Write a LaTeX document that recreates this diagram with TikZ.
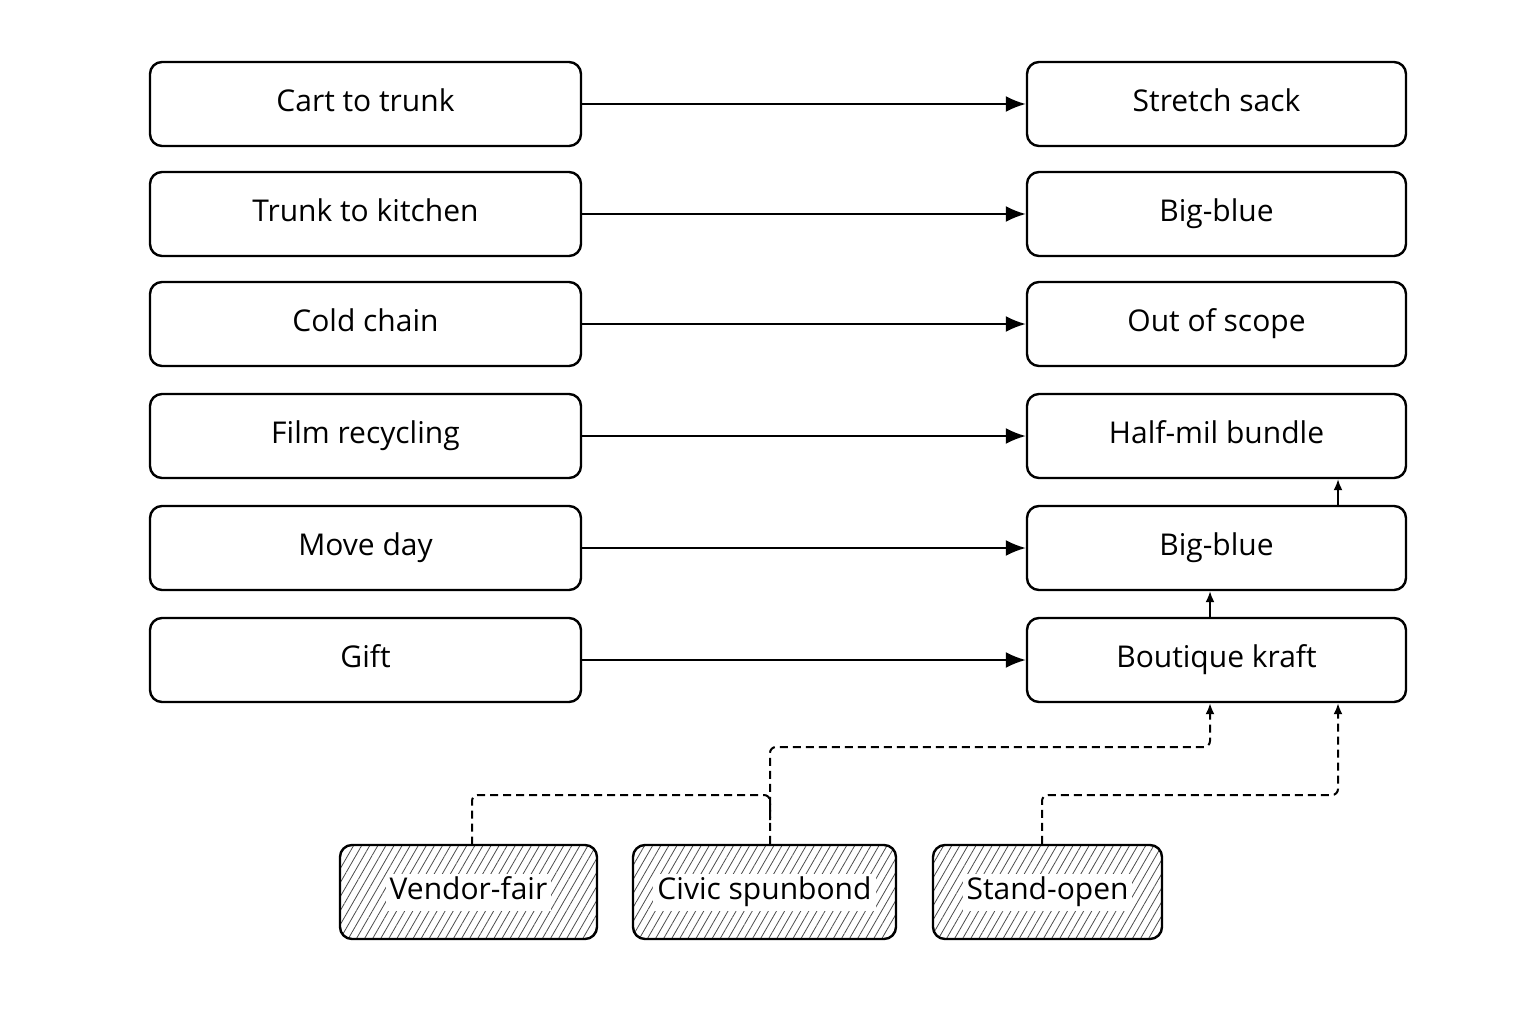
\documentclass[tikz,border=0pt]{standalone}
\usepackage{fontspec}
\setmainfont{Open Sans}
\usetikzlibrary{arrows.meta,patterns.meta}
\begin{document}
\begin{tikzpicture}[x=1pt,y=-1pt,
  tf/.style={font=\fontsize{30}{34}\selectfont,text height=22pt,text depth=7pt},
  box/.style={draw,line width=2.4pt,rounded corners=12pt,tf},
  lb/.style={box,minimum width=431pt,minimum height=84pt},
  rb/.style={box,minimum width=379pt,minimum height=84pt},
  hb/.style={draw,line width=2.4pt,rounded corners=12pt,pattern={Lines[angle=60,distance=7pt,line width=0.8pt]},pattern color=black!70,minimum height=94pt},
  ht/.style={fill=white,inner sep=4pt,tf},
  arr/.style={line width=2pt,-{Latex[length=20pt,width=16pt]}},
  sarr/.style={line width=1.8pt,-{Latex[length=11pt,width=9pt]}},
  dsh/.style={line width=2pt,dash pattern=on 8pt off 5pt,rounded corners=6pt,-{Latex[length=11pt,width=9pt]}}]
\useasboundingbox (0,0) rectangle (1536,1024);
\foreach \n/\t/\y in {l1/Cart to trunk/104,l2/Trunk to kitchen/214,l3/Cold chain/324,l4/Film recycling/436,l5/Move day/548,l6/Gift/660}
  \node[lb] (\n) at (365.5,\y) {\t};
\foreach \n/\t/\y in {r1/Stretch sack/104,r2/Big-blue/214,r3/Out of scope/324,r4/Half-mil bundle/436,r5/Big-blue/548,r6/Boutique kraft/660}
  \node[rb] (\n) at (1216.5,\y) {\t};
\foreach \i in {1,...,6} \draw[arr] (l\i) -- (r\i);
\node[hb,minimum width=257pt] (v) at (468.5,892) {};
\node[ht] at (v) {Vendor-fair};
\node[hb,minimum width=263pt] (c) at (764.5,892) {};
\node[ht] at (c) {Civic spunbond};
\node[hb,minimum width=229pt] (s) at (1047.5,892) {};
\node[ht] at (s) {Stand-open};
\draw[sarr] (r6.north -| 1210,0) -- (r5.south -| 1210,0);
\draw[sarr] (r5.north -| 1338,0) -- (r4.south -| 1338,0);
\draw[dsh,-] (v.north -| 472,0) -- (472,795) -- (770,795) -- (770,820);
\draw[dsh] (c.north -| 770,0) -- (770,747) -- (1210,747) -- (r6.south -| 1210,0);
\draw[dsh] (s.north -| 1042,0) -- (1042,795) -- (1338,795) -- (r6.south -| 1338,0);
\end{tikzpicture}
\end{document}
